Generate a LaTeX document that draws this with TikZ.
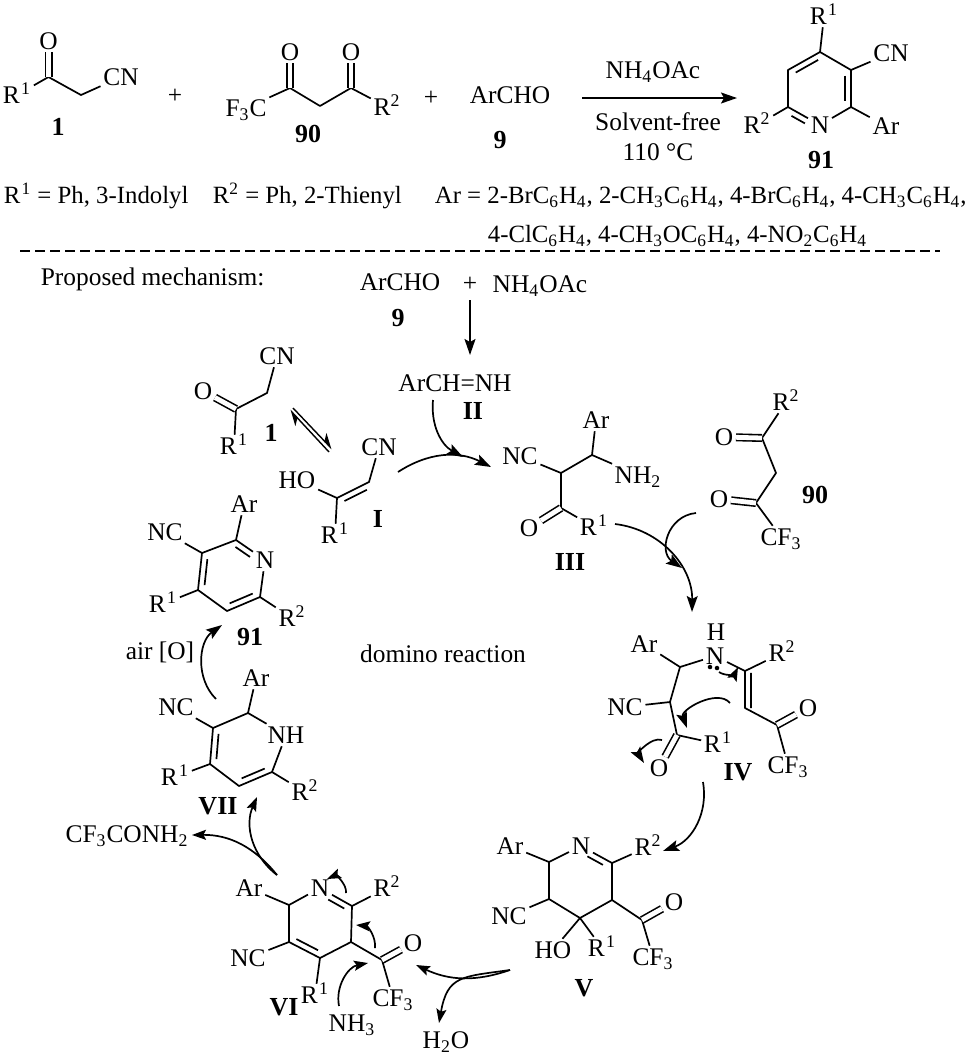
\documentclass[tikz,border=0pt]{standalone}
\usepackage{fontspec}
\setmainfont{Liberation Serif}
\usetikzlibrary{arrows.meta, calc}
\newcommand{\Ra}{R\kern.6pt\textsuperscript{1}}
\newcommand{\Rb}{R\textsuperscript{2}}
\newcommand{\cfiii}{CF\textsubscript{3}}
\newcommand{\nhoac}{NH\textsubscript{4}OAc}
% inner line of a ring double bond, a to b clockwise on the page
\newcommand{\innerbond}[4]{\draw ($(#1)!#3!(#2)!3pt!-90:(#2)$) -- ($(#1)!#4!(#2)!3pt!90:(#1)$);}
\tikzset{
    atom/.style={inner sep=1pt, text height=8.4pt, text depth=0pt},
    lab/.style={atom, font=\fontsize{13}{15}\selectfont\bfseries},
    txt/.style={inner sep=0pt, text height=8.4pt, text depth=0pt, anchor=west},
    subst/.style={txt, font=\fontsize{12.4}{15}\selectfont},
    dblbond/.style={double, double distance=2.4pt, line width=.8pt},
    rxn/.style={-{Stealth[length=8pt, width=5.5pt, inset=1.5pt]}},
    mech/.style={-{Stealth[length=7pt, width=5pt, inset=1.3pt]}},
    lonepair/.style={circle, fill, inner sep=.8pt},
}
\begin{document}
\begin{tikzpicture}[
    x=0.5pt, y=-0.5pt,
    line width=.85pt,
    line join=round,
    font=\fontsize{12.7}{15}\selectfont
]
    \useasboundingbox (0,0) rectangle (969,1056);

    % --- Compound 1 ---
    \node[atom] (r1a) at (17,95) {\Ra};
    \coordinate (c1a) at (48.5,77);
    \node[atom] (o1a) at (48.5,41) {O};
    \coordinate (c2a) at (81,95);
    \node[atom] (cn1a) at (121,77) {CN};
    \node[lab] (l1a) at (58,127) {1};
    \draw (r1a) -- (c1a) -- (c2a) -- (cn1a);
    \draw[dblbond] (c1a) -- (o1a);
    \node[atom] (plus1) at (175,95) {+};

    % --- Compound 90 ---
    \node[atom] (f90a) at (246,108) {F\textsubscript{3}C};
    \coordinate (c1b) at (290,88);
    \node[atom] (o1b) at (290,52) {O};
    \coordinate (c2b) at (320,106);
    \coordinate (c3b) at (351,88);
    \node[atom] (o2b) at (351,52) {O};
    \node[atom] (r2b) at (387,107) {\Rb};
    \node[lab] (l90a) at (308,134) {90};
    \draw (f90a) -- (c1b) -- (c2b) -- (c3b) -- (r2b);
    \draw[dblbond] (c1b) -- (o1b);
    \draw[dblbond] (c3b) -- (o2b);
    \node[atom] (plus2) at (431,97) {+};

    % --- Compound 9 and conditions ---
    \node[atom] (ald) at (510,95) {ArCHO};
    \node[lab] (l9a) at (500,140) {9};
    \coordinate (rs) at (582,98);
    \coordinate (re) at (737,98);
    \draw[rxn] (rs) -- (re);
    \node[atom] (cond1) at (653,70) {\nhoac};
    \node[atom] (cond2) at (658,122) {Solvent-free};
    \node[atom] (cond3) at (658,152) {110 °C};

    % --- Product 91 ---
    \coordinate (c4c) at (820,52);
    \coordinate (c3c) at (851,70);
    \coordinate (c2c) at (851,107);
    \node[atom] (nc) at (820,125) {N};
    \coordinate (c6c) at (788,107);
    \coordinate (c5c) at (788,70);
    \node[atom] (r1c) at (824,16) {\Ra};
    \node[atom] (cnc) at (891,53) {CN};
    \node[atom] (arc) at (886,126) {Ar};
    \node[atom] (r2c) at (757,125) {\Rb};
    \node[lab] (l91a) at (821,160) {91};
    \draw (nc) -- (c6c) -- (c5c) -- (c4c) -- (c3c) -- (c2c) -- (nc);
    \draw (c4c) -- (r1c);
    \draw (c3c) -- (cnc);
    \draw (c2c) -- (arc);
    \draw (c6c) -- (r2c);
    \innerbond{c5c}{c4c}{.15}{.85}
    \innerbond{c3c}{c2c}{.15}{.85}
    \innerbond{c6c}{nc}{.2}{.62}

    % --- Substituents ---
    \node[subst] (subs1) at (3,195) {\Ra{} = Ph, 3-Indolyl};
    \node[subst] (subs2) at (212,195) {\Rb{} = Ph, 2-Thienyl};
    \node[subst] (subs3) at (434,195) {Ar = 2-BrC\textsubscript{6}H\textsubscript{4}, 2-CH\textsubscript{3}C\textsubscript{6}H\textsubscript{4}, 4-BrC\textsubscript{6}H\textsubscript{4}, 4-CH\textsubscript{3}C\textsubscript{6}H\textsubscript{4},};
    \node[subst] (subs4) at (487,234) {4-ClC\textsubscript{6}H\textsubscript{4}, 4-CH\textsubscript{3}OC\textsubscript{6}H\textsubscript{4}, 4-NO\textsubscript{2}C\textsubscript{6}H\textsubscript{4}};
    \coordinate (sepa) at (20,251);
    \coordinate (sepb) at (940,251);
    \draw[line width=.7pt, dash pattern=on 5pt off 2.5pt] (sepa) -- (sepb);

    % --- Mechanism head ---
    \node[txt] (mechtitle) at (40,277) {Proposed mechanism:};
    \node[atom] (ald2) at (400,282) {ArCHO};
    \node[atom] (plus3) at (470,283) {+};
    \node[atom] (amm) at (540,284) {\nhoac};
    \node[lab] (l9b) at (398,318) {9};
    \coordinate (ds) at (470,300);
    \coordinate (de) at (470,355);
    \draw[rxn] (ds) -- (de);
    \node[atom] (imine) at (455,383) {ArCH=NH};
    \node[lab] (lII) at (473,411) {II};
    \node[atom] (domino) at (443,654) {domino reaction};

    % --- 1 in the cycle ---
    \node[atom] (cn1d) at (277,356) {CN};
    \coordinate (c2d) at (267,393);
    \coordinate (c1d) at (236,409);
    \node[atom] (o1d) at (203,391) {O};
    \node[atom] (r1d) at (234,446) {\Ra};
    \node[lab] (l1b) at (271,433) {1};
    \draw (cn1d) -- (c2d) -- (c1d) -- (r1d);
    \draw[dblbond] (c1d) -- (o1d);
    \coordinate (eqa) at (329,452);
    \coordinate (eqb) at (290,410);
    \coordinate (eqc) at (293,408);
    \coordinate (eqd) at (332,449);
    \draw[-{Stealth[length=7pt, width=7pt, harpoon]}, line width=.7pt] (eqa) -- (eqb);
    \draw[-{Stealth[length=7pt, width=7pt, harpoon]}, line width=.7pt] (eqc) -- (eqd);

    % --- I ---
    \node[atom] (cnI) at (379,447) {CN};
    \coordinate (c2I) at (369,482);
    \coordinate (c1I) at (337,498);
    \node[atom] (hoI) at (297,480) {HO};
    \node[atom] (r1I) at (335,535) {\Ra};
    \node[lab] (lI) at (378,519) {I};
    \draw (cnI) -- (c2I) -- (c1I) -- (hoI);
    \draw (c1I) -- (r1I);
    \innerbond{c1I}{c2I}{.15}{.85}

    % --- III ---
    \node[atom] (arIII) at (596,420) {Ar};
    \coordinate (c1III) at (592,455);
    \node[atom] (nhIII) at (638,475) {NH\textsubscript{2}};
    \coordinate (c2III) at (561,473);
    \node[atom] (ncIII) at (520,456) {NC};
    \coordinate (c3III) at (561,508);
    \node[atom] (oIII) at (529,528) {O};
    \node[atom] (r1III) at (594,527) {\Ra};
    \node[lab] (lIII) at (570,562) {III};
    \draw (arIII) -- (c1III) -- (c2III) -- (ncIII);
    \draw (c1III) -- (nhIII);
    \draw (c2III) -- (c3III) -- (r1III);
    \draw[dblbond] (c3III) -- (oIII);

    % --- 90 in the cycle ---
    \node[atom] (r2e) at (786,402) {\Rb};
    \coordinate (c1e) at (762,438);
    \node[atom] (o1e) at (724,437) {O};
    \coordinate (c2e) at (776,473);
    \coordinate (c3e) at (756,503);
    \node[atom] (o2e) at (719,499) {O};
    \node[atom] (cfe) at (781,537) {\cfiii};
    \node[lab] (l90b) at (815,495) {90};
    \draw (r2e) -- (c1e) -- (c2e) -- (c3e) -- (cfe);
    \draw[dblbond] (c1e) -- (o1e);
    \draw[dblbond] (c3e) -- (o2e);

    % --- IV ---
    \node[atom] (arIV) at (644,644) {Ar};
    \coordinate (c1IV) at (680,667);
    \node[atom] (hIV) at (716,632) {H};
    \node[atom] (nIV) at (715,656) {N};
    \coordinate (c2IV) at (745,671);
    \node[atom] (r2IV) at (782,653) {\Rb};
    \coordinate (c3IV) at (745,708);
    \coordinate (c4IV) at (777,725);
    \node[atom] (oaIV) at (808,708) {O};
    \node[atom] (cfIV) at (788,765) {\cfiii};
    \coordinate (c5IV) at (670,702);
    \node[atom] (ncIV) at (625,707) {NC};
    \coordinate (c6IV) at (677,735);
    \node[atom] (obIV) at (659,768) {O};
    \node[atom] (r1IV) at (718,744) {\Ra};
    \node[lab] (lIV) at (738,772) {IV};
    \draw (arIV) -- (c1IV) -- (nIV) -- (c2IV) -- (r2IV);
    \draw (c2IV) -- (c3IV) -- (c4IV) -- (cfIV);
    \draw (c1IV) -- (c5IV) -- (c6IV) -- (r1IV);
    \draw (c5IV) -- (ncIV);
    \innerbond{c3IV}{c2IV}{.0}{.95}
    \draw[dblbond] (c4IV) -- (oaIV);
    \draw[dblbond] (c6IV) -- (obIV);
    \node[lonepair] (lpa) at (710,667) {};
    \node[lonepair] (lpb) at (717,668) {};

    % --- V ---
    \node[atom] (arV) at (510,846) {Ar};
    \coordinate (c1V) at (549,862);
    \node[atom] (nV) at (581,846) {N};
    \coordinate (c2V) at (612,863);
    \node[atom] (r2V) at (648,847) {\Rb};
    \coordinate (c3V) at (612,900);
    \coordinate (c4V) at (580,918);
    \coordinate (c5V) at (549,899);
    \node[atom] (ncV) at (509,916) {NC};
    \node[atom] (hoV) at (553,950) {HO};
    \node[atom] (r1V) at (602,948) {\Ra};
    \coordinate (c6V) at (642,920);
    \node[atom] (oV) at (674,902) {O};
    \node[atom] (cfV) at (653,957) {\cfiii};
    \node[lab] (lV) at (584,988) {V};
    \draw (arV) -- (c1V) -- (nV) -- (c2V) -- (c3V) -- (c4V) -- (c5V) -- (c1V);
    \draw (c2V) -- (r2V);
    \draw (c5V) -- (ncV);
    \draw (c4V) -- (hoV);
    \draw (c4V) -- (r1V);
    \draw (c3V) -- (c6V) -- (cfV);
    \draw[dblbond] (c6V) -- (oV);
    \innerbond{nV}{c2V}{.3}{.8}

    % --- VI ---
    \node[atom] (arVI) at (249,888) {Ar};
    \coordinate (c1VI) at (289,905);
    \node[atom] (nVI) at (320,888) {N};
    \coordinate (c2VI) at (352,906);
    \node[atom] (r2VI) at (387,888) {\Rb};
    \coordinate (c3VI) at (351,942);
    \coordinate (c4VI) at (320,958);
    \coordinate (c5VI) at (289,942);
    \node[atom] (ncVI) at (248,958) {NC};
    \node[atom] (r1VI) at (315,995) {\Ra};
    \coordinate (c6VI) at (382,960);
    \node[atom] (oVI) at (413,943) {O};
    \node[atom] (cfVI) at (393,998) {\cfiii};
    \node[atom] (nh3) at (352,1023) {NH\textsubscript{3}};
    \node[lab] (lVI) at (284,1007) {VI};
    \draw (arVI) -- (c1VI) -- (nVI) -- (c2VI) -- (c3VI) -- (c4VI) -- (c5VI) -- (c1VI);
    \draw (c2VI) -- (r2VI);
    \draw (c5VI) -- (ncVI);
    \draw (c4VI) -- (r1VI);
    \draw (c3VI) -- (c6VI) -- (cfVI);
    \draw[dblbond] (c6VI) -- (oVI);
    \innerbond{nVI}{c2VI}{.35}{.85}
    \innerbond{c4VI}{c5VI}{.15}{.85}

    % --- VII ---
    \node[atom] (arVII) at (256,678) {Ar};
    \coordinate (c1VII) at (248,713);
    \node[atom] (nVII) at (286,735) {NH};
    \coordinate (c2VII) at (272,772);
    \coordinate (c3VII) at (239,786);
    \coordinate (c4VII) at (210,764);
    \coordinate (c5VII) at (213,728);
    \node[atom] (ncVII) at (176,707) {NC};
    \node[atom] (r1VII) at (175,777) {\Ra};
    \node[atom] (r2VII) at (305,792) {\Rb};
    \node[lab] (lVII) at (218,806) {VII};
    \draw (arVII) -- (c1VII) -- (nVII);
    \draw (nVII) -- (c2VII) -- (c3VII) -- (c4VII) -- (c5VII) -- (c1VII);
    \draw (c5VII) -- (ncVII);
    \draw (c4VII) -- (r1VII);
    \draw (c2VII) -- (r2VII);
    \innerbond{c2VII}{c3VII}{.15}{.85}
    \innerbond{c4VII}{c5VII}{.15}{.85}
    \node[atom] (amide) at (127,834) {\cfiii CONH\textsubscript{2}};
    \node[atom] (water) at (446,1040) {H\textsubscript{2}O};

    % --- 91 in the cycle ---
    \node[atom] (arf) at (244,504) {Ar};
    \coordinate (c2f) at (236,540);
    \node[atom] (nf) at (265,560) {N};
    \coordinate (c6f) at (260,597);
    \coordinate (c5f) at (227,611);
    \coordinate (c4f) at (198,590);
    \coordinate (c3f) at (202,553);
    \node[atom] (ncf) at (165,532) {NC};
    \node[atom] (r1f) at (163,604) {\Ra};
    \node[atom] (r2f) at (292,618) {\Rb};
    \node[lab] (l91b) at (250,637) {91};
    \node[atom] (air) at (160,651) {air [O]};
    \draw (arf) -- (c2f) -- (nf) -- (c6f) -- (c5f) -- (c4f) -- (c3f) -- (c2f);
    \draw (c3f) -- (ncf);
    \draw (c4f) -- (r1f);
    \draw (c6f) -- (r2f);
    \innerbond{c2f}{nf}{.1}{.6}
    \innerbond{c6f}{c5f}{.15}{.85}
    \innerbond{c4f}{c3f}{.15}{.85}

    % --- Curved arrows ---
    \coordinate (a1s) at (398,472);
    \coordinate (a1e) at (491,467);
    \draw[rxn] (a1s) to[bend left=30] (a1e);
    \coordinate (a2s) at (433,400);
    \coordinate (a2e) at (463,457);
    \draw[rxn] (a2s) to[bend right=33] (a2e);
    \coordinate (a3s) at (615,524);
    \coordinate (a3e) at (692,612);
    \draw[rxn] (a3s) to[bend left=42] (a3e);
    \coordinate (a4s) at (696,513);
    \coordinate (a4e) at (682,568);
    \draw[rxn] (a4s) to[bend right=70, looseness=1.3] (a4e);
    \coordinate (a5s) at (216,699);
    \coordinate (a5e) at (222,625);
    \draw[rxn] (a5s) to[bend left=50] (a5e);
    \coordinate (a6s) at (719,672);
    \coordinate (a6e) at (738,667);
    \draw[mech] (a6s) to[bend right=50] (a6e);
    \coordinate (a7s) at (730,703);
    \coordinate (a7e) at (687,728);
    \draw[rxn] (a7s) to[bend right=80] (a7e);
    \coordinate (a8s) at (662,740);
    \coordinate (a8e) at (644,763);
    \draw[rxn] (a8s) to[bend right=70] (a8e);
    \coordinate (a9s) at (703,782);
    \coordinate (a9e) at (663,851);
    \draw[rxn] (a9s) to[bend left=40] (a9e);
    \coordinate (a10s) at (510,970);
    \coordinate (a10e) at (416,965);
    \coordinate (a11e) at (439,1023);
    \draw[mech] (a10s) to[bend left=22] (a10e);
    \draw[mech] (a10s) to[out=188, in=80, looseness=1.4] (a11e);
    \coordinate (a12s) at (339,1006);
    \coordinate (a12e) at (368,963);
    \draw[mech] (a12s) to[bend left=45] (a12e);
    \coordinate (a13s) at (375,948);
    \coordinate (a13e) at (356,925);
    \draw[mech] (a13s) to[bend right=45] (a13e);
    \coordinate (a14s) at (346,893);
    \coordinate (a14e) at (327,879);
    \draw[mech] (a14s) to[bend right=60] (a14e);
    \coordinate (a15s) at (277,875);
    \coordinate (a15e) at (192,835);
    \coordinate (a16e) at (257,797);
    \draw[mech] (a15s) to[bend right=26] (a15e);
    \draw[mech] (a15s) to[bend left=38] (a16e);

\end{tikzpicture}
\end{document}
